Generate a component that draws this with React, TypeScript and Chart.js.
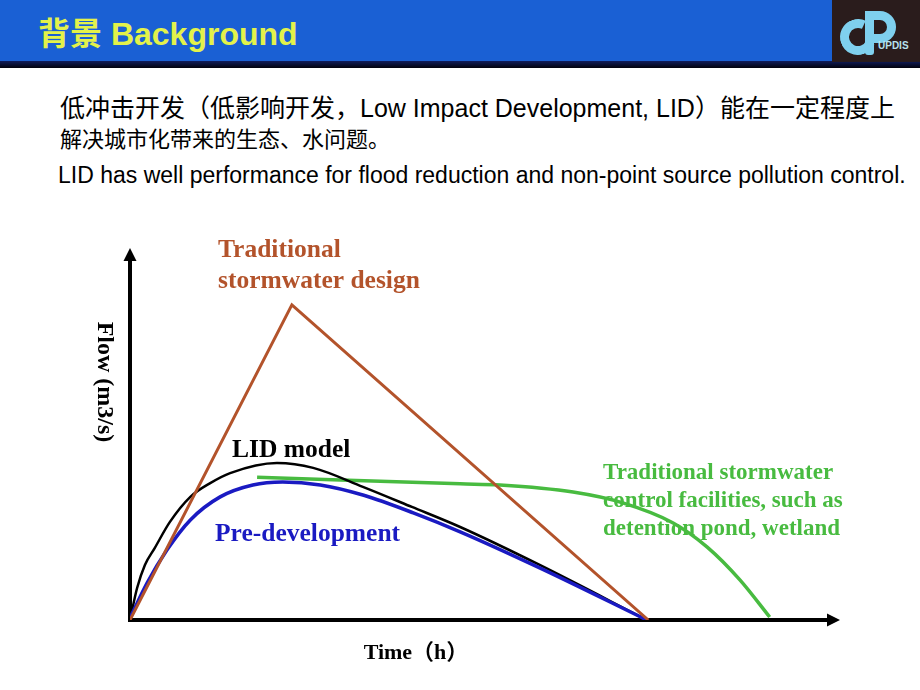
import React, { useEffect, useRef } from "react";
import { Chart, registerables } from "chart.js";

Chart.register(...registerables);

// ---- data (time in relative units 0..100, flow in relative units 0..100) ----
const tradX = [0, 22.8, 73.0];
const tradY = [0, 84.7, 0];

const lidX = [0, 1.0, 2.1, 3.5, 5.6, 8.5, 11.3, 14.1, 20.7, 25.8, 32.8, 39.7, 46.5, 57.7, 72.8];
const lidY = [0, 8.6, 14.8, 19.4, 26.3, 33.1, 36.8, 39.5, 42.2, 40.9, 35.8, 30.4, 25.0, 14.8, 0];

const preX = [0, 2.4, 5.2, 8.5, 12.7, 17.3, 21.5, 26.8, 32.8, 39.9, 46.5, 57.7, 72.8];
const preY = [0.5, 9.9, 18.8, 26.9, 33.1, 36.3, 37.1, 36.3, 33.6, 28.8, 23.7, 14.0, 0];

const pondX = [17.9, 46.5, 52.1, 62.4, 69.4, 76.5, 81.3, 85.9, 90.1];
const pondY = [38.4, 36.6, 36.3, 34.4, 31.5, 26.1, 19.6, 10.8, 0.8];

const xTitle = "Time（h）";
const yTitle = "Flow (m3/s)";
const tradLabel = ["Traditional", "stormwater design"];
const lidLabel = ["LID model"];
const preLabel = ["Pre-development"];
const pondLabel = ["Traditional stormwater", "control facilities, such as", "detention pond, wetland"];

const BROWN = "#b3532b";
const BLUE = "#1a1ac2";
const GREEN = "#48bb40";

const pts = (xs: number[], ys: number[]) => xs.map((x, i) => ({ x, y: ys[i] }));

const axesPlugin = {
  id: "axesArrows",
  beforeDatasetsDraw(chart: any) {
    const { ctx, chartArea: a } = chart;
    ctx.save();
    ctx.strokeStyle = "#000";
    ctx.fillStyle = "#000";
    ctx.lineWidth = 4;
    ctx.beginPath();
    ctx.moveTo(a.left, a.top + 10);
    ctx.lineTo(a.left, a.bottom);
    ctx.lineTo(a.right - 10, a.bottom);
    ctx.stroke();
    ctx.beginPath();
    ctx.moveTo(a.left, a.top);
    ctx.lineTo(a.left - 6.5, a.top + 13);
    ctx.lineTo(a.left + 6.5, a.top + 13);
    ctx.closePath();
    ctx.fill();
    ctx.beginPath();
    ctx.moveTo(a.right, a.bottom);
    ctx.lineTo(a.right - 13, a.bottom - 6.5);
    ctx.lineTo(a.right - 13, a.bottom + 6.5);
    ctx.closePath();
    ctx.fill();
    ctx.restore();
  },
  afterDatasetsDraw(chart: any) {
    const { ctx } = chart;
    ctx.save();
    ctx.textBaseline = "middle";
    ctx.textAlign = "left";
    const draw = (lines: string[], x: number, y: number, lh: number, color: string, size: number) => {
      ctx.fillStyle = color;
      ctx.font = `bold ${size}px 'Liberation Serif', 'Times New Roman', serif`;
      lines.forEach((t, i) => ctx.fillText(t, x, y + i * lh));
    };
    draw(tradLabel, 218, 250, 31, BROWN, 25.5);
    draw(lidLabel, 232, 450, 28, "#000", 25.5);
    draw(preLabel, 215, 534, 28, BLUE, 25.5);
    draw(pondLabel, 603, 473, 28, GREEN, 23);
    ctx.fillStyle = "#000";
    ctx.font = "bold 22px 'Liberation Serif', 'Noto Sans CJK SC', serif";
    ctx.textAlign = "center";
    ctx.fillText(xTitle, 416, 653);
    ctx.translate(104, 382);
    ctx.rotate(Math.PI / 2);
    ctx.font = "bold 24px 'Liberation Serif', serif";
    ctx.fillText(yTitle, 0, 0);
    ctx.restore();
  },
};

function SlideChart() {
  const ref = useRef<HTMLCanvasElement | null>(null);
  useEffect(() => {
    if (!ref.current) return;
    const chart = new Chart(ref.current, {
      type: "line",
      data: {
        datasets: [
          { label: "Traditional stormwater design", data: pts(tradX, tradY), borderColor: BROWN, borderWidth: 3, tension: 0, pointRadius: 0 },
          { label: "Pre-development", data: pts(preX, preY), borderColor: BLUE, borderWidth: 3.5, cubicInterpolationMode: "monotone", pointRadius: 0 },
          { label: "LID model", data: pts(lidX, lidY), borderColor: "#000", borderWidth: 2.5, cubicInterpolationMode: "monotone", pointRadius: 0 },
          { label: "Traditional stormwater control facilities", data: pts(pondX, pondY), borderColor: GREEN, borderWidth: 3.5, cubicInterpolationMode: "monotone", pointRadius: 0 },
        ] as any,
      },
      options: {
        animation: false,
        responsive: false,
        devicePixelRatio: 1,
        layout: { padding: { left: 130, top: 248, right: 80, bottom: 70 } },
        plugins: { legend: { display: false }, tooltip: { enabled: false } },
        scales: {
          x: { type: "linear", min: 0, max: 100, display: false },
          y: { type: "linear", min: 0, max: 100, display: false },
        },
      },
      plugins: [axesPlugin],
    });
    return () => chart.destroy();
  }, []);
  return (
    <canvas
      ref={ref}
      width={920}
      height={690}
      style={{ position: "absolute", left: 0, top: 0, width: 920, height: 690 }}
    />
  );
}

const LOGO = "#7fd0ee";

export default function App() {
  const font = "'Liberation Sans', Arial, 'Noto Sans CJK SC', sans-serif";
  const line = (top: number, left: number, size: number): React.CSSProperties => ({
    position: "absolute",
    left,
    top,
    fontSize: size,
    color: "#000",
    whiteSpace: "nowrap",
    lineHeight: "30px",
  });
  return (
    <div
      style={{
        position: "fixed",
        left: 0,
        top: 0,
        width: 920,
        height: 690,
        background: "#fff",
        overflow: "hidden",
        fontFamily: font,
      }}
    >
      <div style={{ position: "absolute", left: 0, top: 0, width: 920, height: 61, background: "#1a60d4" }} />
      <div
        style={{
          position: "absolute",
          left: 0,
          top: 61,
          width: 920,
          height: 7,
          background: "linear-gradient(#101c5c, #02020c)",
        }}
      />
      <div
        style={{
          position: "absolute",
          left: 38,
          top: 14,
          fontSize: 32,
          fontWeight: "bold",
          color: "#e3f24a",
          whiteSpace: "nowrap",
          lineHeight: "40px",
        }}
      >
        背景 Background
      </div>
      <div style={{ position: "absolute", left: 832, top: 0, width: 88, height: 62, background: "#2a1c1c" }}>
        <div
          style={{
            position: "absolute",
            left: 8,
            top: 19,
            width: 18,
            height: 18,
            border: `9px solid ${LOGO}`,
            borderRightColor: "transparent",
            borderRadius: "50%",
            transform: "rotate(-20deg)",
          }}
        />
        <div style={{ position: "absolute", left: 33, top: 11, width: 9, height: 44, background: LOGO, borderRadius: 3 }} />
        <div
          style={{
            position: "absolute",
            left: 33,
            top: 11,
            width: 22,
            height: 14,
            border: `9px solid ${LOGO}`,
            borderLeft: "none",
            borderRadius: "0 16px 16px 0",
          }}
        />
        <div
          style={{
            position: "absolute",
            left: 46,
            top: 40,
            fontSize: 10,
            fontWeight: "bold",
            color: "#b8e2ee",
          }}
        >
          UPDIS
        </div>
      </div>
      <div style={line(93, 60, 25)}>低冲击开发（低影响开发，Low Impact Development, LID）能在一定程度上</div>
      <div style={line(125, 60, 22)}>解决城市化带来的生态、水问题。</div>
      <div style={line(160, 58, 23)}>LID has well performance for flood reduction and non-point source pollution control.</div>
      <SlideChart />
    </div>
  );
}
